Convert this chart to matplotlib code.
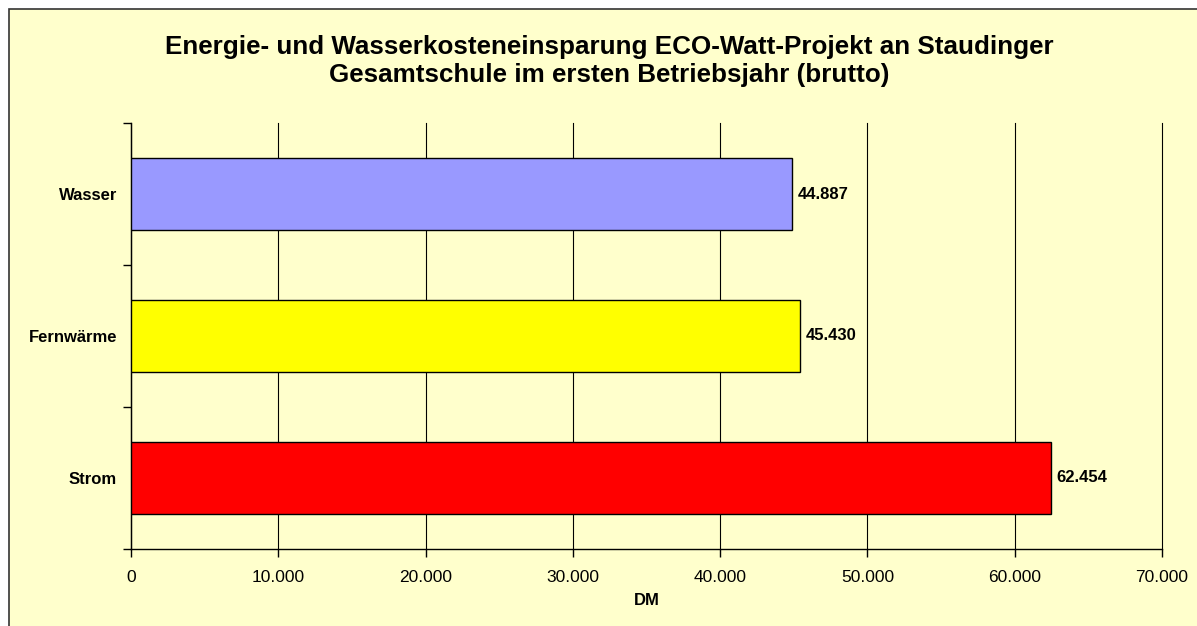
import matplotlib.pyplot as plt
from matplotlib.patches import Rectangle

plt.rcParams['font.family'] = ['Liberation Sans', 'DejaVu Sans']

categories = ['Strom', 'Fernwärme', 'Wasser']
values = [62454, 45430, 44887]
colors = ['#FF0000', '#FFFF00', '#9999FF']
xticks = [0, 10000, 20000, 30000, 40000, 50000, 60000, 70000]
xticklabels = ['0', '10.000', '20.000', '30.000', '40.000', '50.000', '60.000', '70.000']
value_labels = ['62.454', '45.430', '44.887']

bg = '#FFFFCC'
fig = plt.figure(figsize=(11.97, 6.26), dpi=100, facecolor='white')
# chart area border (cut off at right/bottom like the reference)
fig.patches.append(Rectangle((9 / 1197, -0.05), 1.2, 1 - 9 / 626 + 0.05,
                             transform=fig.transFigure, facecolor=bg,
                             edgecolor='#333333', linewidth=1.2, zorder=-5))

ax = fig.add_axes([131 / 1197, 77 / 626, 1031 / 1197, 426 / 626])
ax.patch.set_alpha(0)

y = range(len(categories))
ax.barh(y, values, height=0.51, color=colors, edgecolor='black', linewidth=1, zorder=3)
for yi, v, lab in zip(y, values, value_labels):
    ax.text(v + 400, yi, lab, va='center', ha='left', fontsize=12, fontweight='bold', zorder=4)

ax.set_xlim(0, 70000)
ax.set_ylim(-0.5, 2.5)
ax.set_xticks(xticks)
ax.set_xticklabels(xticklabels, fontsize=12.5)
ax.set_yticks([-0.5, 0.5, 1.5, 2.5])
ax.set_yticklabels([])
ax.set_yticks(list(y), minor=True)
ax.set_yticklabels(categories, minor=True, fontsize=12, fontweight='bold')
ax.tick_params(axis='y', which='minor', length=0, pad=10)
ax.tick_params(axis='y', which='major', length=6, direction='out', width=1)
ax.tick_params(axis='x', length=6, direction='out', width=1, pad=9)

ax.grid(axis='x', color='black', linewidth=0.8, zorder=1)
for gl in ax.get_xgridlines():
    gl.set_clip_on(False)
for s in ['top', 'right']:
    ax.spines[s].set_visible(False)
for s in ['left', 'bottom']:
    ax.spines[s].set_linewidth(1)

ax.set_xlabel('DM', fontsize=12, fontweight='bold', labelpad=6)

fig.text(0.509, 1 - 61 / 626, 'Energie- und Wasserkosteneinsparung ECO-Watt-Projekt an Staudinger\nGesamtschule im ersten Betriebsjahr (brutto)',
         ha='center', va='center', fontsize=18.7, fontweight='bold', linespacing=1.25)

fig.savefig('out.png', dpi=100, facecolor='white')
